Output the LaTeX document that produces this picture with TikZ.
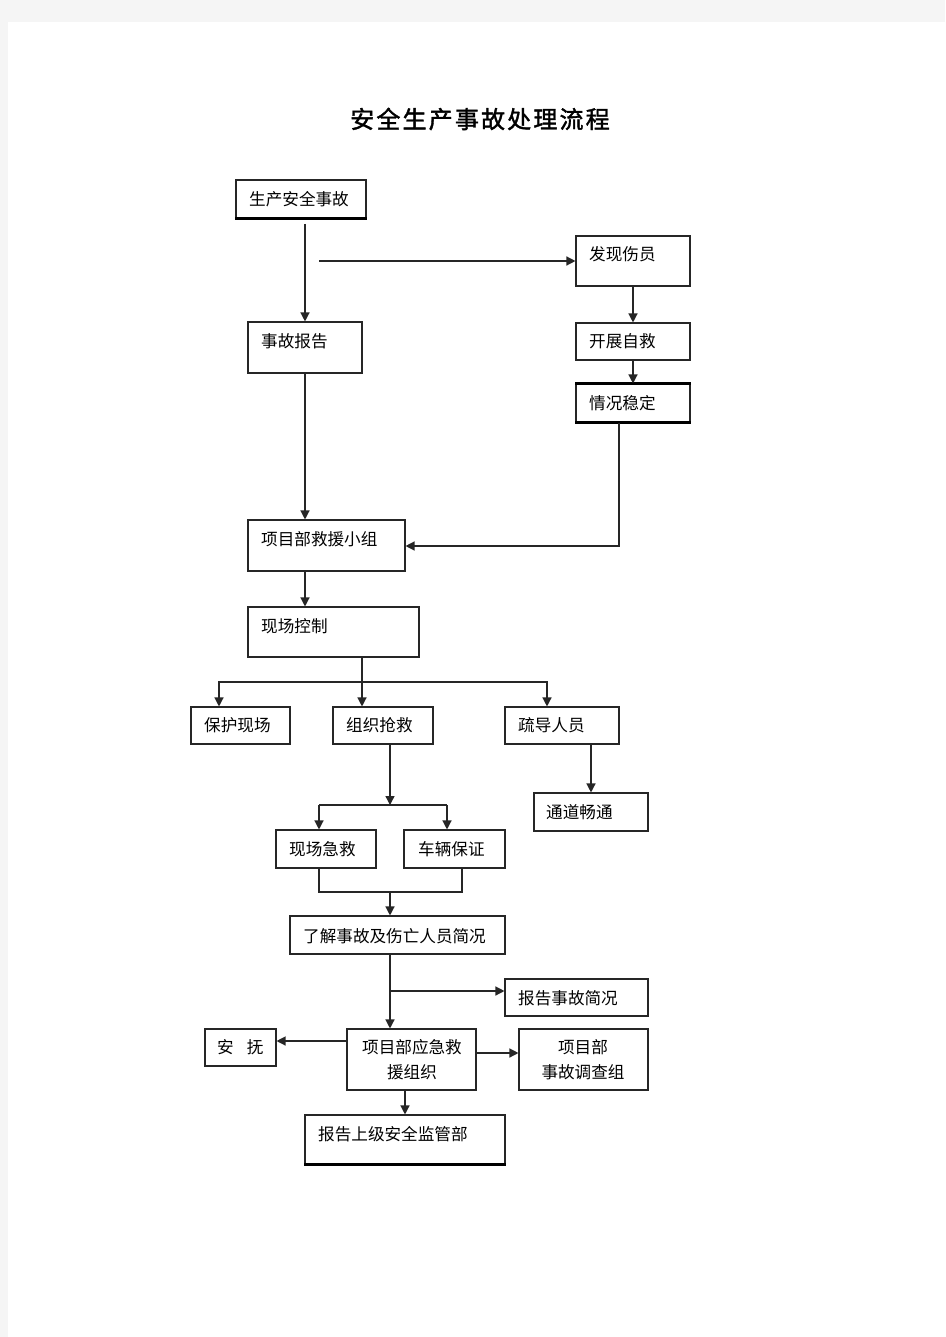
\documentclass[tikz,border=0pt]{standalone}
\usepackage{fontspec}
\usetikzlibrary{arrows.meta}
\newfontfamily\cjk{Noto Sans CJK SC}
\newfontfamily\cjktitle[LetterSpace=9,FakeBold=1.6]{Noto Sans CJK SC}
\begin{document}
\begin{tikzpicture}[x=1pt,y=-1pt,
  box/.style={draw=black!85,line width=1.1pt,rectangle,inner sep=0pt},
  txt/.style={font=\cjk\fontsize{16.6}{20}\selectfont,inner sep=0pt,anchor=west,text=black},
  ctxt/.style={font=\cjk\fontsize{16.6}{25}\selectfont,inner sep=0pt,align=center,text=black},
  conn/.style={draw=black!85,line width=1.3pt},
  arr/.style={conn,-{Triangle[length=9pt,width=9pt]}},
  thick edge/.style={draw=black,line width=2.4pt}]
% page
\fill[black!4] (0,0) rectangle (945,1337);
\fill[white] (8,22) rectangle (945,1337);
\useasboundingbox (0,0) rectangle (945,1337);
% title
\node[font=\cjktitle\fontsize{24}{28}\selectfont,inner sep=0pt] (title) at (480,119) {安全生产事故处理流程};
% boxes
\node[box,minimum width=130pt,minimum height=38pt] (b1) at (301,199) {};
\node[box,minimum width=114pt,minimum height=50pt] (b2) at (633,261) {};
\node[box,minimum width=114pt,minimum height=51pt] (b3) at (305,347.5) {};
\node[box,minimum width=114pt,minimum height=37pt] (b4) at (633,341.5) {};
\node[box,minimum width=114pt,minimum height=38pt] (b5) at (633,403) {};
\node[box,minimum width=157pt,minimum height=51pt] (b6) at (326.5,545.5) {};
\node[box,minimum width=171pt,minimum height=50pt] (b7) at (333.5,632) {};
\node[box,minimum width=99pt,minimum height=37pt] (b8) at (240.5,725.5) {};
\node[box,minimum width=100pt,minimum height=37pt] (b9) at (383,725.5) {};
\node[box,minimum width=114pt,minimum height=37pt] (b10) at (562,725.5) {};
\node[box,minimum width=114pt,minimum height=38pt] (b11) at (591,812) {};
\node[box,minimum width=100pt,minimum height=38pt] (b12) at (326,849) {};
\node[box,minimum width=101pt,minimum height=38pt] (b13) at (454.5,849) {};
\node[box,minimum width=215pt,minimum height=38pt] (b14) at (397.5,935) {};
\node[box,minimum width=143pt,minimum height=37pt] (b15) at (576.5,997.5) {};
\node[box,minimum width=71pt,minimum height=37pt] (b16) at (240.5,1047.5) {};
\node[box,minimum width=129pt,minimum height=61pt] (b17) at (411.5,1059.5) {};
\node[box,minimum width=129pt,minimum height=61pt] (b18) at (583.5,1059.5) {};
\node[box,minimum width=200pt,minimum height=49pt] (b19) at (405,1139.5) {};
% thick edges
\draw[thick edge] (b1.south west) -- (b1.south east);
\draw[thick edge] (b5.north west) -- (b5.north east);
\draw[thick edge] (b5.south west) -- (b5.south east);
\draw[thick edge] (b19.south west) -- (b19.south east);
% texts
\node[txt] (t1) at (249,199) {生产安全事故};
\node[txt] (t2) at (589,254) {发现伤员};
\node[txt] (t3) at (261,341) {事故报告};
\node[txt] (t4) at (589,341) {开展自救};
\node[txt] (t5) at (589,403) {情况稳定};
\node[txt] (t6) at (261,539) {项目部救援小组};
\node[txt] (t7) at (261,626) {现场控制};
\node[txt] (t8) at (204,725) {保护现场};
\node[txt] (t9) at (346,725) {组织抢救};
\node[txt] (t10) at (518,725) {疏导人员};
\node[txt] (t11) at (546,812) {通道畅通};
\node[txt] (t12) at (289,849) {现场急救};
\node[txt] (t13) at (418,849) {车辆保证};
\node[txt] (t14) at (303,936) {了解事故及伤亡人员简况};
\node[txt] (t15) at (518,998) {报告事故简况};
\node[txt] (t16) at (217,1047) {安\hspace{13pt}抚};
\node[ctxt] (t17) at (412,1059.5) {项目部应急救\\援组织};
\node[ctxt] (t18) at (583,1059.5) {项目部\\事故调查组};
\node[txt] (t19) at (318,1134) {报告上级安全监管部};
% junction coordinates
\coordinate (c1) at (305,224);
\coordinate (c2) at (319,261);
\coordinate (c5) at (619,546);
\coordinate (c7) at (362,682);
\coordinate (c7l) at (219,682);
\coordinate (c7r) at (547,682);
\coordinate (c9) at (390,805);
\coordinate (c9l) at (319,805);
\coordinate (c9r) at (447,805);
\coordinate (c12) at (319,892);
\coordinate (c13) at (462,892);
\coordinate (c14) at (390,892);
\coordinate (c15) at (390,991);
\coordinate (c16) at (300,1041);
\coordinate (c17) at (500,1053);
% connectors
\draw[arr] (c1) -- (c1 |- b3.north);
\draw[arr] (c2) -- (c2 -| b2.west);
\draw[arr] (b2.south) -- (b4.north);
\draw[arr] (b4.south) -- (b5.north);
\draw[arr] (c5 |- b5.south) -- (c5) -- (c5 -| b6.east);
\draw[arr] (c1 |- b3.south) -- (c1 |- b6.north);
\draw[arr] (c1 |- b6.south) -- (c1 |- b7.north);
\draw[conn] (c7 |- b7.south) -- (c7);
\draw[arr] (c7) -- (c7 |- b9.north);
\draw[arr] (c7) -- (c7l) -- (c7l |- b8.north);
\draw[arr] (c7) -- (c7r) -- (c7r |- b10.north);
\draw[arr] (b11.north |- b10.south) -- (b11.north);
\draw[conn] (c9l) -- (c9r);
\draw[arr] (c9 |- b9.south) -- (c9);
\draw[arr] (c9l) -- (c9l |- b12.north);
\draw[arr] (c9r) -- (c9r |- b13.north);
\draw[conn] (c12 |- b12.south) -- (c12) -- (c13) -- (c13 |- b13.south);
\draw[arr] (c14) -- (c14 |- b14.north);
\draw[arr] (c14 |- b14.south) -- (c14 |- b17.north);
\draw[arr] (c15) -- (c15 -| b15.west);
\draw[arr] (c16 -| b17.west) -- (c16 -| b16.east);
\draw[arr] (c17 -| b17.east) -- (c17 -| b18.west);
\draw[arr] (b19.north |- b17.south) -- (b19.north);
\end{tikzpicture}
\end{document}
